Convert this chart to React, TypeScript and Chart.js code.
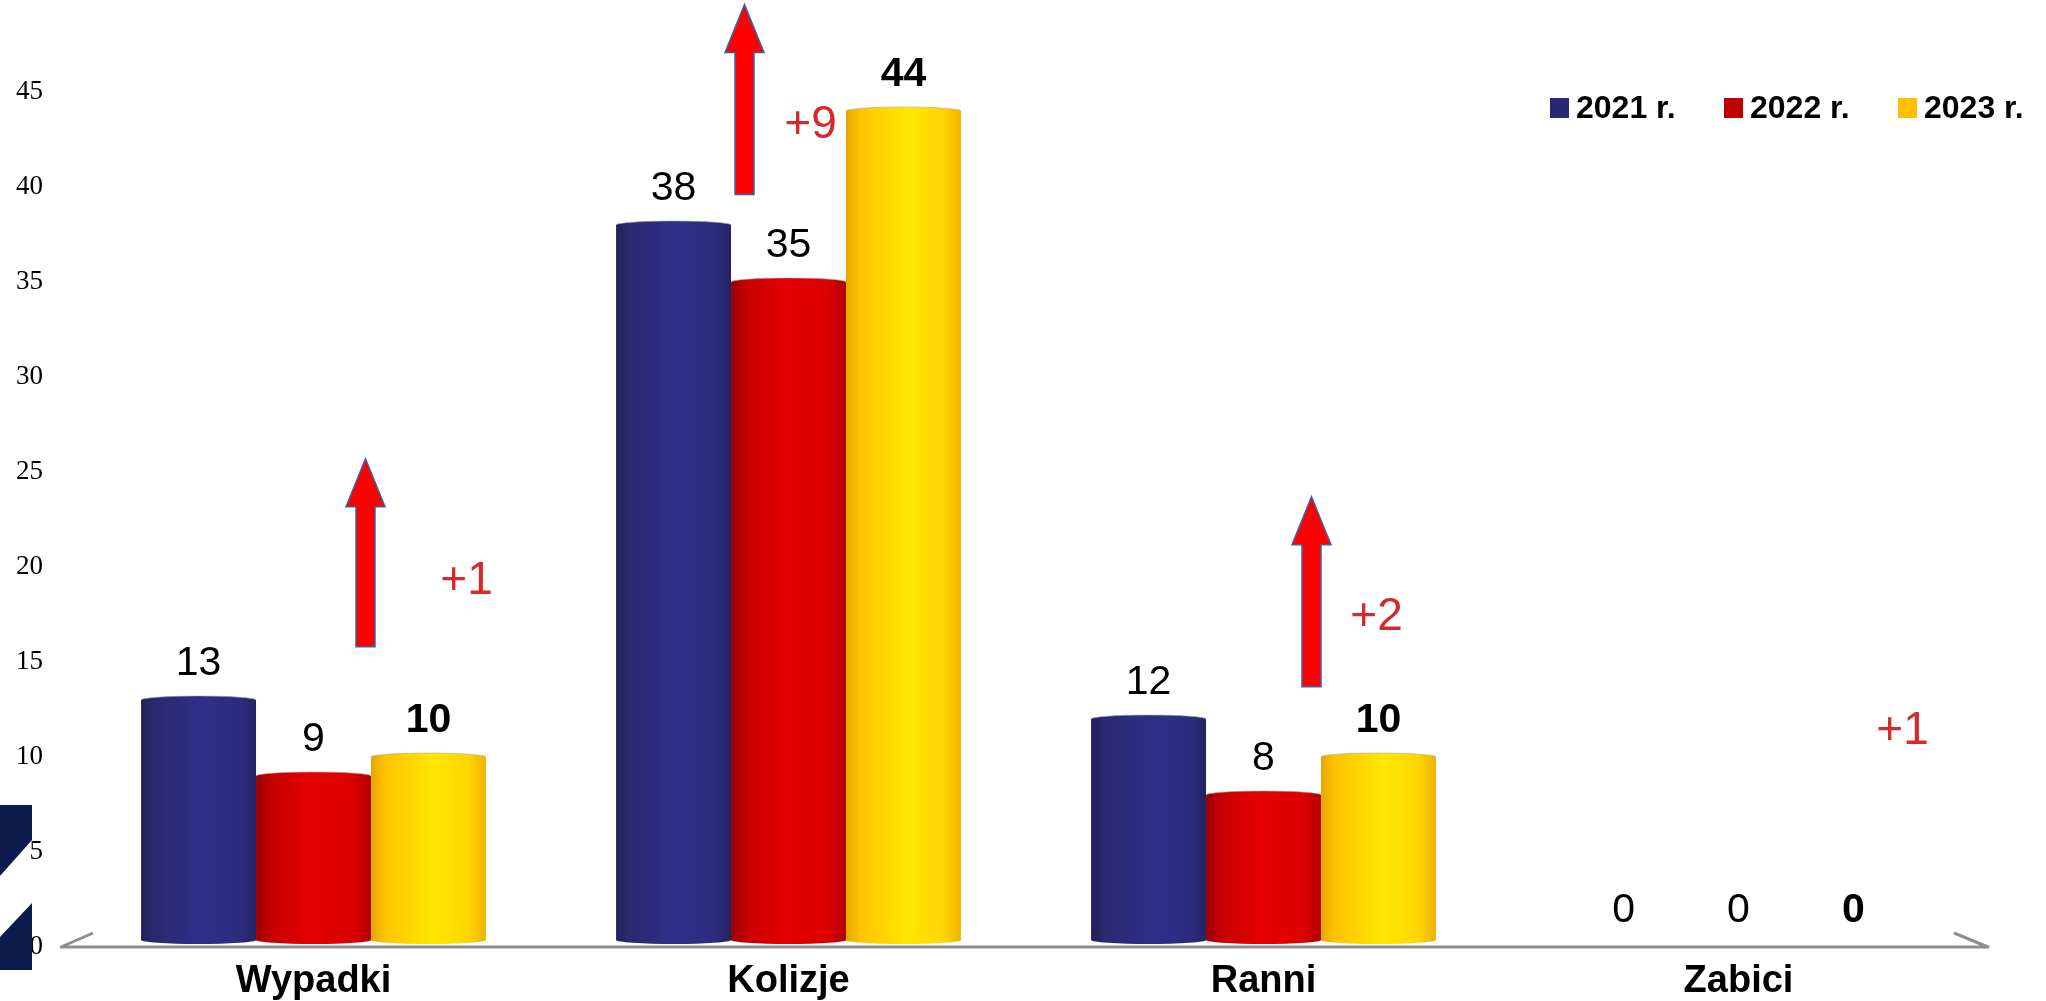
import React, { useEffect, useRef } from "react";
import { Chart, registerables } from "chart.js";

Chart.register(...registerables);

// ---------- data ----------
const categories = ["Wypadki", "Kolizje", "Ranni", "Zabici"];
const seriesLabels = ["2021 r.", "2022 r.", "2023 r."];
const values2021 = [13, 38, 12, 0];
const values2022 = [9, 35, 8, 0];
const values2023 = [10, 44, 10, 0];
const changeLabels = ["+1", "+9", "+2", "+1"];
const yMax = 49;
const yStep = 5;

// ---------- styling / annotation layout ----------
const legendColors = ["#262874", "#C00000", "#FFC000"];
const cylinderStops: [number, string][][] = [
  [[0, "#202058"], [0.1, "#29296F"], [0.55, "#2F2F8A"], [0.88, "#2B2B7E"], [1, "#222262"]],
  [[0, "#9C0000"], [0.14, "#C60000"], [0.45, "#E40000"], [0.85, "#DC0000"], [1, "#B00000"]],
  [[0, "#E5A500"], [0.12, "#FFC300"], [0.55, "#FFE700"], [0.85, "#FFD500"], [1, "#EDB300"]],
];
const arrowLayout = [
  { cat: 0, dx: 52, from: 15.8, to: 25.7 },
  { cat: 1, dx: -44, from: 39.6, to: 49.6 },
  { cat: 2, dx: 48, from: 13.7, to: 23.7 },
];
const changeLayout = [
  { dx: 153, y: 18.6 },
  { dx: 22, y: 42.6 },
  { dx: 113, y: 16.7 },
  { dx: 164, y: 10.7 },
];

const SANS = "'Liberation Sans', Arial, sans-serif";

function drawCylinder(ctx: CanvasRenderingContext2D, x: number, y: number, base: number, w: number, stops: [number, string][]) {
  const left = x - w / 2;
  const right = x + w / 2;
  const ry = 4;
  const bottomY = base - 7;
  const grad = ctx.createLinearGradient(left, 0, right, 0);
  stops.forEach(([o, c]) => grad.addColorStop(o, c));
  ctx.save();
  ctx.beginPath();
  ctx.moveTo(left, y);
  ctx.lineTo(left, bottomY);
  ctx.ellipse(x, bottomY, w / 2, ry, 0, Math.PI, 0, true);
  ctx.lineTo(right, y);
  ctx.ellipse(x, y, w / 2, ry, 0, 0, -Math.PI, true);
  ctx.closePath();
  ctx.fillStyle = grad;
  ctx.fill();
  ctx.beginPath();
  ctx.ellipse(x, y, w / 2, ry, 0, Math.PI, 2 * Math.PI, false);
  ctx.strokeStyle = "rgba(170,170,170,0.55)";
  ctx.lineWidth = 1;
  ctx.stroke();
  ctx.restore();
}

const floorPlugin = {
  id: "floor",
  beforeDatasetsDraw(chart: any) {
    const ctx: CanvasRenderingContext2D = chart.ctx;
    const { left, right } = chart.chartArea;
    const y0 = chart.scales.y.getPixelForValue(0);
    ctx.save();
    // logo fragment at the left edge
    ctx.fillStyle = "#0B1C4C";
    ctx.beginPath();
    ctx.moveTo(0, 805);
    ctx.lineTo(32, 805);
    ctx.lineTo(32, 840);
    ctx.lineTo(0, 876);
    ctx.closePath();
    ctx.fill();
    ctx.beginPath();
    ctx.moveTo(32, 903);
    ctx.lineTo(32, 970);
    ctx.lineTo(0, 970);
    ctx.lineTo(0, 937);
    ctx.closePath();
    ctx.fill();
    // floor line
    ctx.strokeStyle = "#8E8E8E";
    ctx.lineWidth = 3;
    ctx.lineJoin = "round";
    ctx.beginPath();
    ctx.moveTo(left + 17, y0 - 14);
    ctx.lineTo(left - 15, y0);
    ctx.lineTo(right + 12, y0);
    ctx.lineTo(right - 22, y0 - 14);
    ctx.stroke();
    ctx.restore();
  },
};

const cylinderPlugin = {
  id: "cylinders",
  beforeDatasetDraw(chart: any, args: any) {
    const ctx: CanvasRenderingContext2D = chart.ctx;
    const i = args.index;
    const meta = chart.getDatasetMeta(i);
    const data = chart.data.datasets[i].data;
    meta.data.forEach((el: any, j: number) => {
      if (!data[j]) return;
      drawCylinder(ctx, el.x, el.y, el.base, el.width, cylinderStops[i]);
    });
    return false;
  },
};

function drawArrow(ctx: CanvasRenderingContext2D, x: number, tipY: number, bottomY: number) {
  const headH = 48;
  const headW = 39;
  const shaftW = 19;
  ctx.save();
  ctx.beginPath();
  ctx.moveTo(x, tipY);
  ctx.lineTo(x + headW / 2, tipY + headH);
  ctx.lineTo(x + shaftW / 2, tipY + headH);
  ctx.lineTo(x + shaftW / 2, bottomY);
  ctx.lineTo(x - shaftW / 2, bottomY);
  ctx.lineTo(x - shaftW / 2, tipY + headH);
  ctx.lineTo(x - headW / 2, tipY + headH);
  ctx.closePath();
  ctx.fillStyle = "#FF0000";
  ctx.fill();
  ctx.strokeStyle = "#3A62A8";
  ctx.lineWidth = 1.5;
  ctx.stroke();
  ctx.restore();
}

const overlayPlugin = {
  id: "overlay",
  afterDatasetsDraw(chart: any) {
    const ctx: CanvasRenderingContext2D = chart.ctx;
    const xs = chart.scales.x;
    const ys = chart.scales.y;
    ctx.save();
    // value labels
    chart.data.datasets.forEach((ds: any, i: number) => {
      const meta = chart.getDatasetMeta(i);
      ctx.font = (i === 2 ? "bold " : "") + "41px " + SANS;
      ctx.fillStyle = "#000";
      ctx.textAlign = "center";
      ctx.textBaseline = "alphabetic";
      meta.data.forEach((el: any, j: number) => {
        ctx.fillText(String(ds.data[j]), el.x, el.y - 25);
      });
    });
    // arrows
    arrowLayout.forEach((a) => {
      const cx = xs.getPixelForValue(a.cat) + a.dx;
      drawArrow(ctx, cx, ys.getPixelForValue(a.to), ys.getPixelForValue(a.from));
    });
    // change labels
    ctx.font = "46px " + SANS;
    ctx.fillStyle = "#D42A2A";
    ctx.textAlign = "center";
    ctx.textBaseline = "alphabetic";
    changeLabels.forEach((t, j) => {
      const c = changeLayout[j];
      ctx.fillText(t, xs.getPixelForValue(j) + c.dx, ys.getPixelForValue(c.y));
    });
    // legend
    const legendX = [1550, 1724, 1898];
    ctx.font = "bold 32px " + SANS;
    ctx.textAlign = "left";
    ctx.textBaseline = "alphabetic";
    seriesLabels.forEach((lab, i) => {
      ctx.fillStyle = legendColors[i];
      ctx.fillRect(legendX[i], 98, 19, 20);
      ctx.fillStyle = "#000";
      ctx.fillText(lab, legendX[i] + 26, 118);
    });
    ctx.restore();
  },
};

export default function App() {
  const ref = useRef<HTMLCanvasElement | null>(null);
  useEffect(() => {
    if (!ref.current) return;
    const chart = new Chart(ref.current, {
      type: "bar",
      data: {
        labels: categories,
        datasets: [
          { label: seriesLabels[0], data: values2021, backgroundColor: legendColors[0] },
          { label: seriesLabels[1], data: values2022, backgroundColor: legendColors[1] },
          { label: seriesLabels[2], data: values2023, backgroundColor: legendColors[2] },
        ],
      },
      options: {
        responsive: false,
        animation: false,
        events: [],
        devicePixelRatio: 1,
        layout: { padding: { top: 16, right: 70, bottom: 0, left: 0 } },
        datasets: { bar: { barPercentage: 1, categoryPercentage: 0.726, borderWidth: 0 } },
        plugins: { legend: { display: false }, tooltip: { enabled: false } },
        scales: {
          x: {
            type: "category",
            grid: { display: false, drawTicks: false },
            border: { display: false },
            ticks: {
              color: "#000",
              font: { family: SANS, size: 38, weight: "bold" },
              padding: 12,
              maxRotation: 0,
              autoSkip: false,
            },
            afterFit: (s: any) => {
              s.height = 54;
              s.paddingLeft = 0;
              s.paddingRight = 0;
            },
          },
          y: {
            min: 0,
            max: yMax,
            grid: { display: false, drawTicks: false },
            border: { display: false },
            ticks: {
              stepSize: yStep,
              color: "#000",
              padding: 33,
              font: { family: "'Liberation Serif', 'Times New Roman', serif", size: 27 },
            },
            afterBuildTicks: (s: any) => {
              s.ticks = s.ticks.filter((t: any) => t.value % yStep === 0);
            },
            afterFit: (s: any) => {
              s.width = 76;
              s.paddingTop = 0;
              s.paddingBottom = 0;
            },
          },
        },
      } as any,
      plugins: [floorPlugin, cylinderPlugin, overlayPlugin],
    });
    return () => chart.destroy();
  }, []);
  return (
    <div style={{ position: "absolute", left: 0, top: 0, width: 2046, height: 1001, background: "#fff" }}>
      <canvas ref={ref} width={2046} height={1001} />
    </div>
  );
}
